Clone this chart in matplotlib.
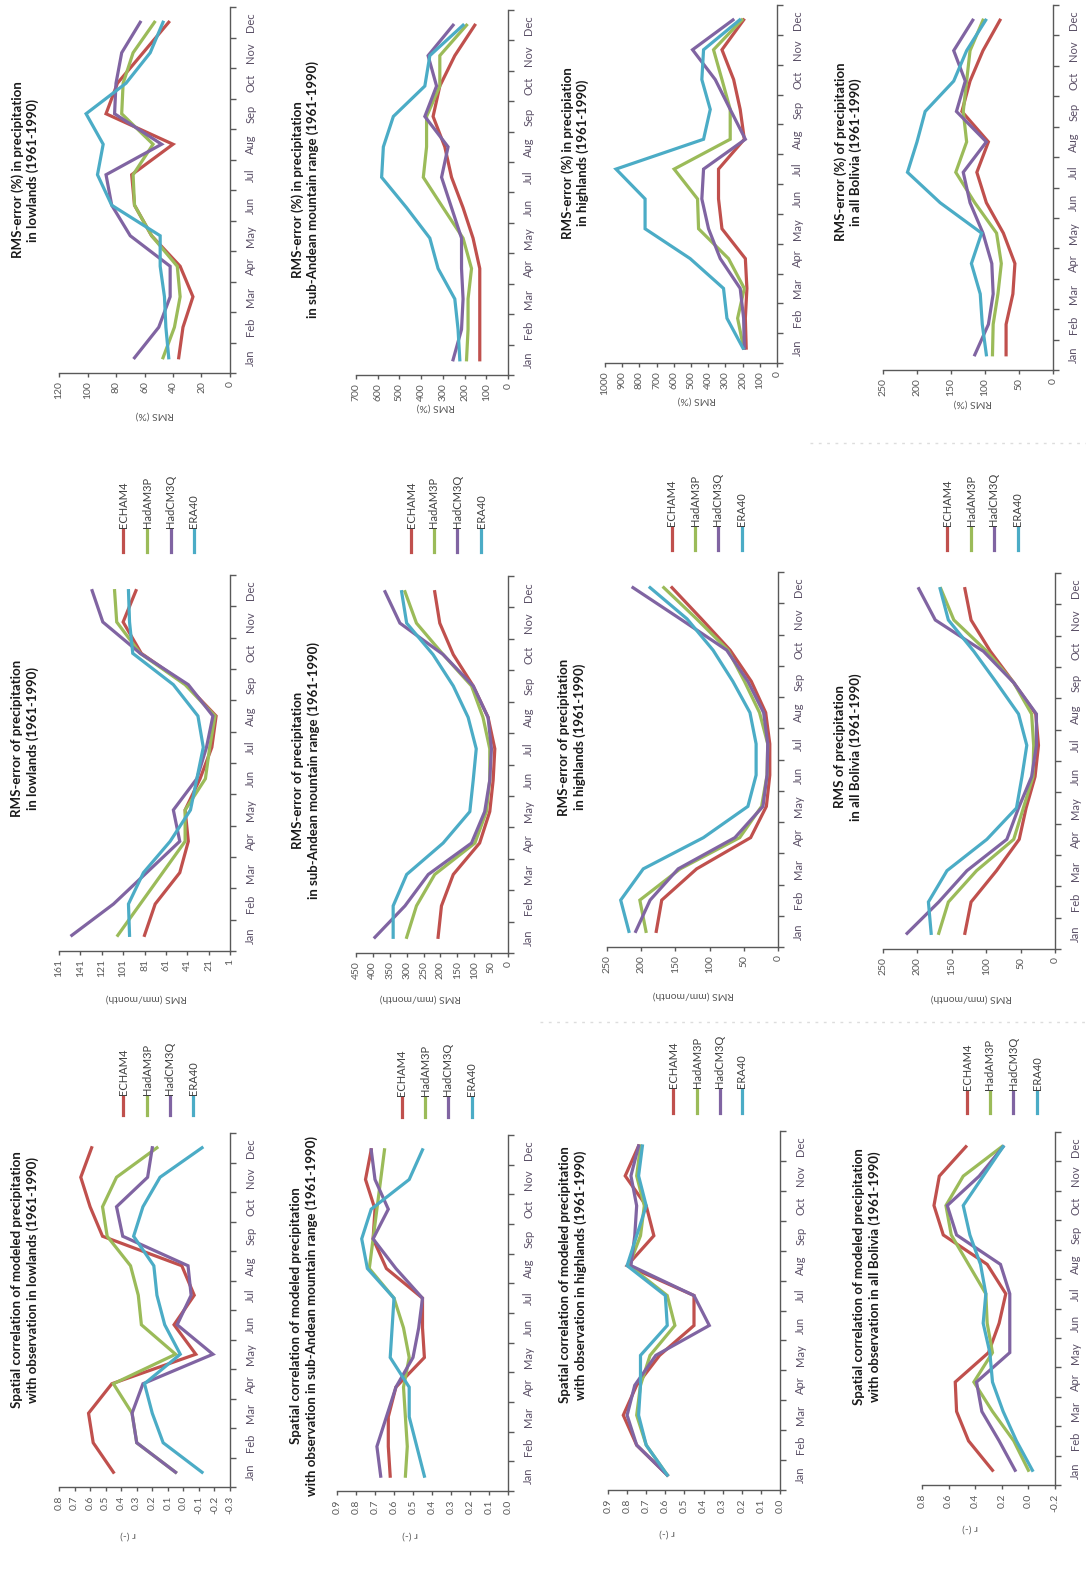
import numpy as np
import matplotlib
matplotlib.use("Agg")
import matplotlib.pyplot as plt
from matplotlib.lines import Line2D

# The page is a landscape figure turned a quarter turn, so every panel is
# drawn with the value axis horizontal (reversed) and months running upward.

plt.rcParams["font.family"] = ["Lato", "DejaVu Sans"]

W, H = 1086, 1577

months = ["Jan", "Feb", "Mar", "Apr", "May", "Jun",
          "Jul", "Aug", "Sep", "Oct", "Nov", "Dec"]
models = ["ECHAM4", "HadAM3P", "HadCM3Q", "ERA40"]
colors = ["#C0504D", "#9BBB59", "#8064A2", "#4BACC6"]

# Spatial correlation r (-)  rows: ECHAM4, HadAM3P, HadCM3Q, ERA40
corr_lowlands = [
    [0.45, 0.58, 0.61, 0.46, -0.08, 0.06, -0.07, 0.01, 0.52, 0.60, 0.66, 0.59],
    [0.05, 0.30, 0.33, 0.45, 0.05, 0.27, 0.29, 0.34, 0.49, 0.52, 0.43, 0.17],
    [0.05, 0.30, 0.33, 0.26, -0.19, 0.04, -0.05, -0.03, 0.39, 0.43, 0.23, 0.20],
    [-0.12, 0.13, 0.20, 0.25, 0.02, 0.12, 0.17, 0.19, 0.32, 0.26, 0.15, -0.12],
]
corr_subandean = [
    [0.62, 0.63, 0.63, 0.59, 0.44, 0.45, 0.45, 0.64, 0.71, 0.70, 0.75, 0.72],
    [0.54, 0.53, 0.54, 0.55, 0.52, 0.55, 0.60, 0.73, 0.71, 0.69, 0.67, 0.65],
    [0.67, 0.69, 0.64, 0.59, 0.50, 0.47, 0.45, 0.59, 0.71, 0.63, 0.70, 0.72],
    [0.44, 0.48, 0.52, 0.52, 0.62, 0.61, 0.60, 0.74, 0.77, 0.72, 0.52, 0.45],
]
corr_highlands = [
    [0.59, 0.75, 0.82, 0.75, 0.63, 0.45, 0.45, 0.80, 0.66, 0.70, 0.81, 0.74],
    [0.59, 0.70, 0.75, 0.73, 0.68, 0.55, 0.59, 0.79, 0.73, 0.71, 0.75, 0.73],
    [0.59, 0.75, 0.80, 0.76, 0.65, 0.37, 0.45, 0.78, 0.76, 0.75, 0.78, 0.74],
    [0.59, 0.70, 0.74, 0.73, 0.73, 0.59, 0.60, 0.80, 0.75, 0.70, 0.74, 0.72],
]
corr_bolivia = [
    [0.27, 0.45, 0.54, 0.55, 0.30, 0.22, 0.17, 0.31, 0.64, 0.71, 0.67, 0.47],
    [0.00, 0.11, 0.27, 0.41, 0.27, 0.31, 0.32, 0.45, 0.58, 0.62, 0.49, 0.20],
    [0.10, 0.22, 0.35, 0.39, 0.14, 0.14, 0.14, 0.21, 0.54, 0.61, 0.37, 0.19],
    [-0.03, 0.09, 0.19, 0.27, 0.29, 0.34, 0.32, 0.36, 0.44, 0.49, 0.34, 0.19],
]

# RMS error (mm/month)
rms_lowlands = [
    [81, 71, 48, 40, 43, 29, 18, 14, 42, 84, 101, 89],
    [106, 85, 64, 43, 43, 24, 20, 15, 43, 85, 107, 109],
    [149, 110, 79, 48, 54, 32, 23, 17, 40, 85, 120, 130],
    [95, 96, 82, 57, 38, 32, 26, 31, 54, 92, 95, 96],
]
rms_subandean = [
    [207, 197, 162, 84, 54, 44, 39, 59, 103, 162, 202, 217],
    [300, 271, 217, 98, 64, 54, 54, 74, 108, 192, 271, 305],
    [394, 305, 236, 108, 69, 54, 49, 59, 103, 192, 320, 364],
    [340, 340, 300, 192, 113, 103, 94, 118, 162, 222, 300, 315],
]
rms_highlands = [
    [178, 170, 119, 40, 17, 12, 12, 18, 39, 70, 112, 155],
    [193, 202, 143, 56, 24, 16, 15, 27, 49, 73, 119, 167],
    [208, 187, 146, 63, 22, 16, 15, 21, 44, 75, 143, 212],
    [218, 230, 197, 109, 44, 32, 32, 41, 66, 95, 133, 187],
]
rms_bolivia = [
    [131, 122, 85, 52, 42, 29, 24, 28, 60, 94, 122, 131],
    [169, 155, 114, 60, 46, 32, 31, 34, 60, 99, 147, 166],
    [215, 169, 128, 70, 53, 34, 27, 27, 60, 104, 174, 198],
    [180, 184, 157, 99, 56, 48, 41, 53, 85, 118, 155, 167],
]

# RMS error (%)
rmspct_lowlands = [
    [36, 33, 26, 35, 55, 67, 69, 40, 87, 79, 61, 43],
    [47, 39, 35, 37, 55, 67, 68, 54, 76, 75, 68, 53],
    [67, 50, 42, 42, 70, 83, 87, 48, 81, 80, 76, 63],
    [43, 45, 46, 49, 49, 83, 93, 89, 101, 73, 56, 47],
]
rmspct_subandean = [
    [130, 130, 130, 130, 161, 207, 260, 291, 345, 314, 245, 153],
    [191, 184, 184, 168, 207, 299, 390, 375, 375, 314, 314, 191],
    [253, 214, 207, 214, 214, 260, 306, 276, 383, 329, 368, 253],
    [222, 230, 245, 322, 360, 467, 582, 574, 528, 383, 360, 207],
]
rmspct_highlands = [
    [179, 184, 175, 184, 320, 340, 340, 190, 214, 252, 320, 194],
    [194, 229, 190, 282, 456, 462, 598, 272, 272, 320, 369, 204],
    [190, 194, 214, 330, 398, 437, 427, 184, 272, 359, 491, 256],
    [198, 291, 311, 505, 767, 767, 936, 427, 388, 437, 427, 217],
]
rmspct_bolivia = [
    [69, 69, 59, 56, 73, 98, 112, 95, 134, 122, 103, 78],
    [89, 88, 81, 76, 83, 115, 143, 127, 132, 127, 122, 103],
    [115, 95, 88, 90, 103, 122, 132, 98, 142, 129, 146, 118],
    [98, 104, 107, 120, 105, 166, 214, 200, 188, 146, 127, 99],
]

titles_corr = [
    "Spatial correlation of modeled precipitation\nwith observation in lowlands (1961-1990)",
    "Spatial correlation of modeled precipitation\nwith observation in sub-Andean mountain range (1961-1990)",
    "Spatial correlation of modeled precipitation\nwith observation in highlands (1961-1990)",
    "Spatial correlation of modeled precipitation\nwith observation in all Bolivia (1961-1990)",
]
titles_rms = [
    "RMS-error of precipitation\nin lowlands (1961-1990)",
    "RMS-error of precipitation\nin sub-Andean mountain range (1961-1990)",
    "RMS-error of precipitation\nin highlands (1961-1990)",
    "RMS of precipitation\nin all Bolivia (1961-1990)",
]
titles_pct = [
    "RMS-error (%) in precipitation\nin lowlands (1961-1990)",
    "RMS-error (%) in precipitation\nin sub-Andean mountain range (1961-1990)",
    "RMS-error (%) in precipiation\nin highlands (1961-1990)",
    "RMS-error (%) of precipitation\nin all Bolivia (1961-1990)",
]


def fx(x):
    return x / W


def fy(y):
    return 1 - y / H


def box(x0, y0, x1, y1):
    return [fx(x0), fy(y1), (x1 - x0) / W, (y1 - y0) / H]


# (data, axes box in px, value range, ticks, decimals, title, title xy,
#  axis label, label xy, legend x's, legend line y-range)
panels = [
    (corr_lowlands, (59, 1133, 230, 1487), (0.8, -0.3), np.arange(-0.3, 0.81, 0.1), 1,
     titles_corr[0], (25, 1280), "r (-)", (128, 1535), (123, 147, 170, 193), (1097, 1115)),
    (corr_subandean, (337, 1135, 508, 1491), (0.9, 0.0), np.arange(0, 0.91, 0.1), 1,
     titles_corr[1], (304, 1316), "r (-)", (410, 1535), (402, 425, 448, 472), (1098, 1117)),
    (corr_highlands, (608, 1131, 780, 1490), (0.9, 0.0), np.arange(0, 0.91, 0.1), 1,
     titles_corr[2], (573, 1275), "r (-)", (667, 1533), (673, 697, 720, 742), (1090, 1113)),
    (corr_bolivia, (922, 1132, 1055, 1485), (0.8, -0.2), np.arange(-0.2, 0.81, 0.2), 1,
     titles_corr[3], (867, 1277), "r (-)", (970, 1528), (967, 990, 1013, 1037), (1092, 1113)),

    (rms_lowlands, (59, 575, 230, 951), (161, 1), np.arange(1, 162, 20), 0,
     titles_rms[0], (25, 738), "RMS (mm/month)", (146, 998), (123, 147, 171, 194), (530, 552)),
    (rms_subandean, (356, 576, 508, 953), (450, 0), np.arange(0, 451, 50), 0,
     titles_rms[1], (306, 770), "RMS (mm/month)", (420, 998), (411, 434, 457, 481), (530, 552)),
    (rms_highlands, (607, 572, 778, 947), (250, 0), np.arange(0, 251, 50), 0,
     titles_rms[2], (572, 737), "RMS (mm/month)", (693, 995), (672, 695, 718, 742), (528, 550)),
    (rms_bolivia, (883, 573, 1055, 949), (250, 0), np.arange(0, 251, 50), 0,
     titles_rms[3], (848, 747), "RMS (mm/month)", (971, 998), (947, 971, 994, 1018), (528, 550)),

    (rmspct_lowlands, (59, 7, 230, 373), (120, 0), np.arange(0, 121, 20), 0,
     titles_pct[0], (25, 170), "RMS (%)", (155, 415), None, None),
    (rmspct_subandean, (356, 10, 508, 375), (700, 0), np.arange(0, 701, 100), 0,
     titles_pct[1], (305, 190), "RMS (%)", (436, 407), None, None),
    (rmspct_highlands, (605, 5, 777, 363), (1000, 0), np.arange(0, 1001, 100), 0,
     titles_pct[2], (575, 153), "RMS (%)", (697, 400), None, None),
    (rmspct_bolivia, (883, 5, 1053, 370), (250, 0), np.arange(0, 251, 50), 0,
     titles_pct[3], (848, 152), "RMS (%)", (973, 403), None, None),
]

fig = plt.figure(figsize=(W / 100, H / 100), dpi=100)
fig.patch.set_facecolor("white")

month_pos = np.arange(1, 13)
axis_col = "#595959"

for (data, bx, vrange, ticks, dec, title, txy, label, lxy, leg_x, leg_y) in panels:
    ax = fig.add_axes(box(*bx))
    for vals, col in zip(data, colors):
        ax.plot(vals, month_pos, color=col, lw=2.3, solid_joinstyle="miter")

    ax.set_xlim(vrange)
    ax.set_ylim(0.5, 12.5)

    for s in ["top", "left"]:
        ax.spines[s].set_visible(False)
    for s in ["bottom", "right"]:
        ax.spines[s].set_color(axis_col)
        ax.spines[s].set_linewidth(1.0)

    ax.set_xticks(ticks)
    ax.set_xticklabels([f"{round(t, 1):.{dec}f}" for t in ticks],
                       rotation=90, fontsize=7.5, color=axis_col)
    ax.tick_params(axis="x", direction="out", length=3, width=1,
                   color=axis_col, pad=3)

    ax.set_yticks(np.arange(0.5, 12.6, 1))
    ax.set_yticklabels([])
    ax.set_yticks(month_pos, minor=True)
    ax.set_yticklabels(months, minor=True, rotation=90, fontsize=8,
                       color="#5a4f66", va="center")
    ax.tick_params(axis="y", which="both", left=False, right=True,
                   labelleft=False, labelright=True)
    ax.tick_params(axis="y", which="major", direction="out", length=4,
                   width=1, color=axis_col)
    ax.tick_params(axis="y", which="minor", length=0, pad=11)

    fig.text(fx(txy[0]), fy(txy[1]), title, rotation=90, ha="center",
             va="center", fontsize=9.5, fontweight="bold", color="#1a1a1a",
             multialignment="center", linespacing=1.25)
    fig.text(fx(lxy[0]), fy(lxy[1]), label, rotation=180, ha="center",
             va="center", fontsize=7.5, color=axis_col)

    if leg_x is not None:
        for name, col, x in zip(models, colors, leg_x):
            fig.add_artist(Line2D([fx(x), fx(x)], [fy(leg_y[1]), fy(leg_y[0])],
                                  color=col, lw=2.3, transform=fig.transFigure))
            fig.text(fx(x), fy(leg_y[0] - 2), name, rotation=90, ha="center",
                     va="bottom", fontsize=8, color="#404040")

# faint page separators
fig.add_artist(Line2D([fx(540), 1], [fy(1022), fy(1022)], color="#dddddd",
                      lw=1, ls=(0, (2, 4)), transform=fig.transFigure))
fig.add_artist(Line2D([fx(810), 1], [fy(443), fy(443)], color="#dddddd",
                      lw=1, ls=(0, (2, 4)), transform=fig.transFigure))

fig.savefig("out.png", dpi=100, facecolor="white")
